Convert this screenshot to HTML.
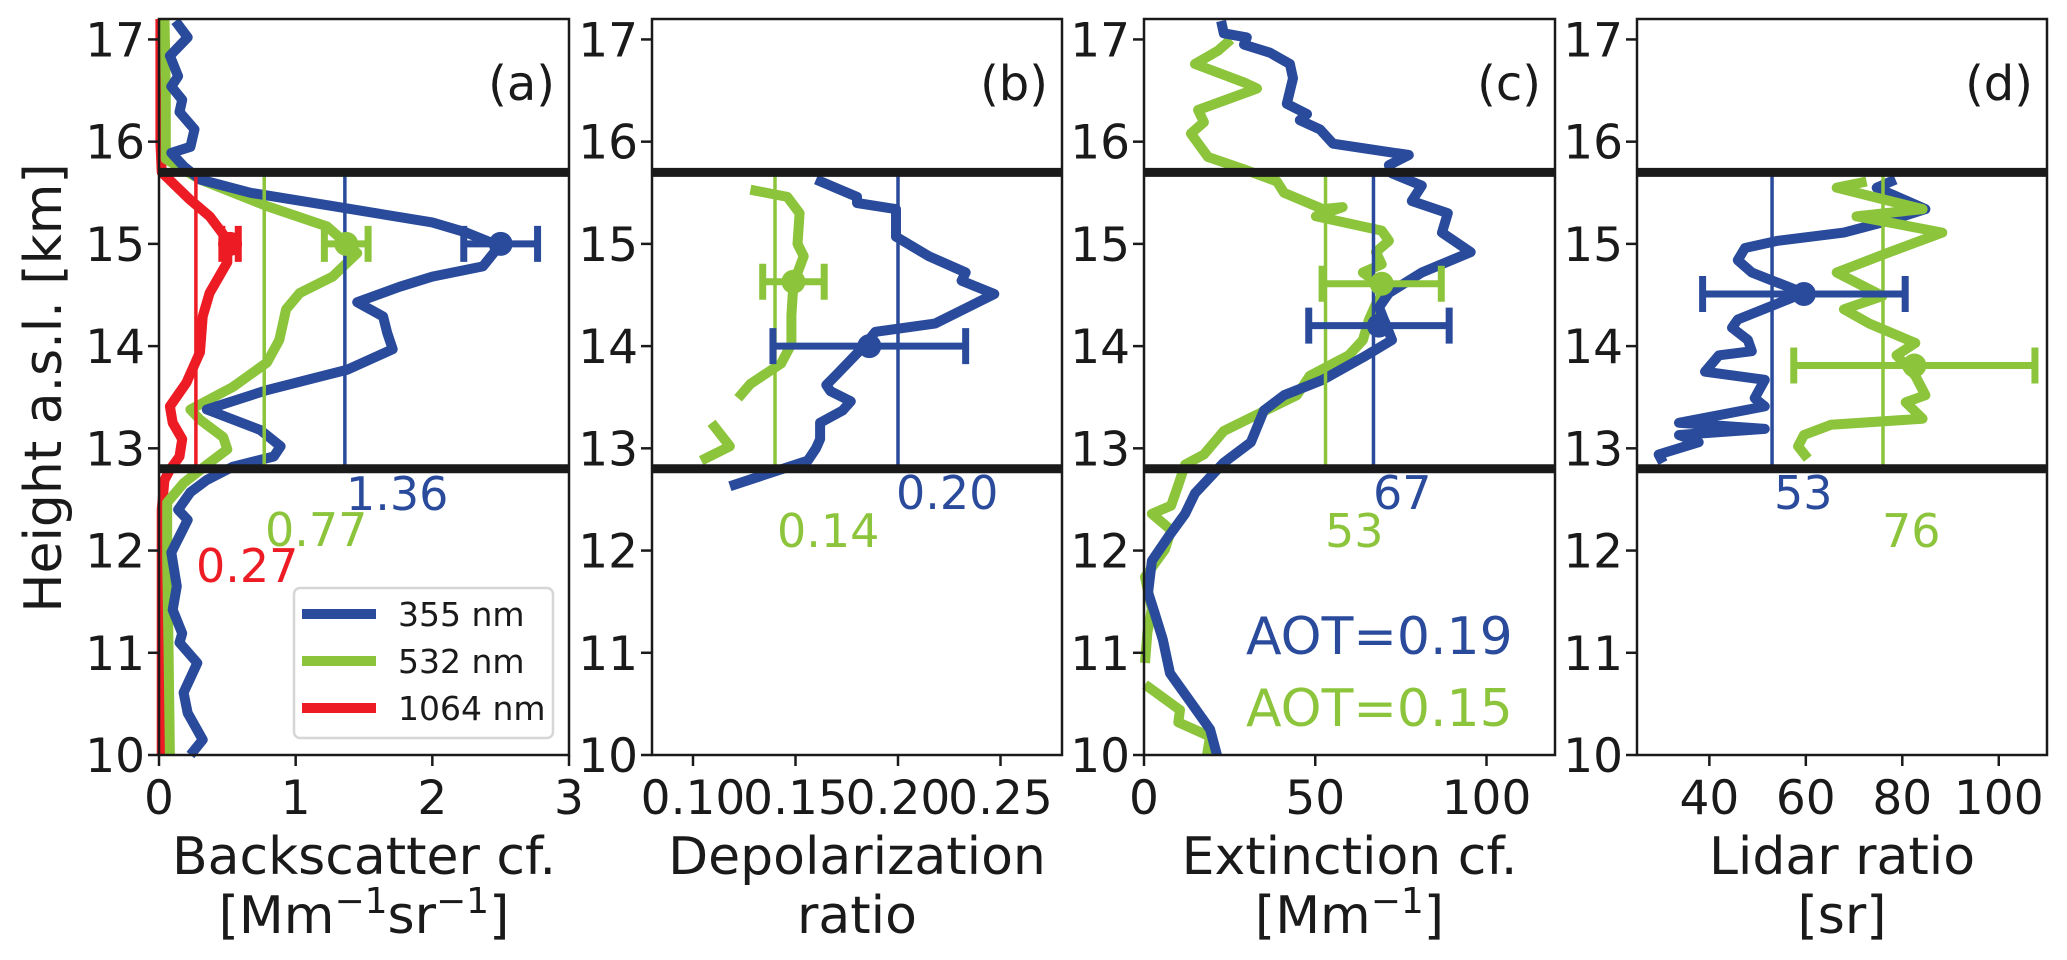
<!DOCTYPE html>
<html><head><meta charset="utf-8">
<style>
html,body{margin:0;padding:0;background:#fff;}
svg{display:block;font-family:"DejaVu Sans","Liberation Sans",sans-serif;}
</style></head>
<body>
<svg id="chart" width="2067" height="960" viewBox="0 0 2067 960" xmlns="http://www.w3.org/2000/svg">
<text x="0" y="0" transform="translate(44,388) rotate(-90)" text-anchor="middle" dominant-baseline="central" font-size="52" fill="#1a1a1a">Height a.s.l. [km]</text>
</svg>
<script>
// ---------- data ----------
const yTicks = [10,11,12,13,14,15,16,17];
const layerBounds = [12.8, 15.7];
const bscTicks = [0,1,2,3];
const depTicks = [0.10,0.15,0.20,0.25];
const depTickLabels = ["0.10","0.15","0.20","0.25"];
const extTicks = [0,50,100];
const lrTicks = [40,60,80,100];

// panel a: backscatter
const bsc355H = [17.18,17.02,16.84,16.64,16.54,16.41,16.29,16.12,15.95,15.89,15.76,15.63,15.50,15.37,15.21,15.11,14.98,14.78,14.68,14.58,14.43,14.29,14.13,13.97,13.77,13.57,13.38,13.18,13.02,12.92,12.82,12.69,12.57,12.40,12.30,11.98,11.65,11.42,11.19,11.10,10.90,10.61,10.41,10.15,10.0];
const bsc355V = [0.12,0.21,0.08,0.14,0.09,0.17,0.15,0.26,0.23,0.09,0.18,0.30,0.67,1.27,2.0,2.25,2.49,2.37,2.0,1.76,1.45,1.64,1.67,1.71,1.38,0.79,0.35,0.74,0.89,0.84,0.54,0.35,0.23,0.14,0.21,0.09,0.13,0.10,0.17,0.15,0.28,0.18,0.21,0.32,0.23];
const bsc532H = [17.2,16.5,15.83,15.63,15.37,15.17,14.91,14.68,14.52,14.36,14.06,13.84,13.60,13.38,13.28,13.11,12.99,12.86,12.66,12.47,11.91,11.0,10.0];
const bsc532V = [0.04,0.05,0.05,0.30,0.79,1.23,1.45,1.27,1.03,0.93,0.88,0.79,0.54,0.23,0.30,0.47,0.50,0.37,0.18,0.06,0.06,0.07,0.08];
const bsc1064H = [17.2,16.0,15.7,15.44,15.27,15.04,14.82,14.52,14.29,13.94,13.64,13.41,13.25,13.09,12.92,12.79,12.69,12.4,10.0];
const bsc1064V = [0.01,0.01,0.02,0.22,0.37,0.50,0.50,0.37,0.32,0.30,0.20,0.08,0.10,0.17,0.15,0.08,0.04,0.02,0.02];
const bscMean = [1.36,0.77,0.27];
const bscMeanLabels = ["1.36","0.77","0.27"];
const bscPointH = [15.0,15.0,15.0];
const bscPointV = [2.50,1.37,0.52];
const bscPointErr = [0.27,0.16,0.06];

// panel b: depolarization
const dep355H = [15.63,15.46,15.40,15.34,15.07,14.88,14.72,14.64,14.51,14.38,14.22,14.14,13.99,13.72,13.62,13.56,13.46,13.37,13.25,13.09,13.00,12.88,12.63];
const dep355V = [0.160,0.180,0.180,0.199,0.199,0.215,0.233,0.231,0.247,0.234,0.218,0.189,0.183,0.170,0.165,0.167,0.177,0.173,0.162,0.162,0.160,0.156,0.118];
const dep532H = [15.53,15.46,15.30,15.0,14.88,14.61,14.30,14.02,13.83,13.63,13.49];
const dep532V = [0.128,0.146,0.152,0.151,0.154,0.149,0.148,0.148,0.143,0.128,0.122];
const dep532H2 = [13.25,13.02,12.88];
const dep532V2 = [0.109,0.118,0.104];
const depMean = [0.20,0.14];
const depMeanLabels = ["0.20","0.14"];
const depPointH = [14.0,14.63];
const depPointV = [0.186,0.149];
const depPointErr = [0.047,0.015];

// panel c: extinction
const ext355H = [17.18,17.06,17.02,16.95,16.87,16.76,16.62,16.37,16.27,16.21,16.12,15.98,15.87,15.77,15.69,15.57,15.42,15.30,15.11,14.92,14.72,14.52,14.38,14.06,13.89,13.67,13.52,13.37,13.06,12.86,12.56,12.36,12.13,11.90,11.59,11.4,11.13,10.80,10.57,10.25,10.0];
const ext355V = [22.5,23.3,30,29.2,36.8,42.6,43.5,41.7,47.6,45.5,51.4,55.2,77.3,71.5,72.4,81.1,78.2,88.7,87,95.4,81.1,71.5,68.6,72.4,63.9,52.2,40.9,35.0,31.2,23.3,14.9,12.0,7.0,2.3,1.2,3.0,5.5,7.6,12.5,19.3,21.3];
const ext532H = [17.0,16.89,16.76,16.58,16.52,16.31,16.19,16.08,15.85,15.73,15.61,15.50,15.34,15.36,15.27,15.13,15.03,14.92,14.80,14.72,14.56,14.41,14.26,14.06,13.91,13.71,13.52,13.33,13.17,12.94,12.84,12.63,12.44,12.36,12.20,12.01,11.74,11.43,11.2,10.9];
const ext532V = [25.4,21.6,14.9,29.2,33,15.8,17.5,13.7,18.7,29.2,38.8,40.9,52.2,58,50.2,69.4,71.5,67.7,69.4,63.9,70.6,67.7,65.7,63.9,59.8,48.4,44.6,33,23.3,17.5,12,9.9,7.9,2.3,7.9,6.1,0.3,2.3,1.0,0.3];
const ext532H2 = [10.69,10.44,10.32,10.18,10.0];
const ext532V2 = [0.3,10.5,10,19.3,18.4];
const extMean = [67,53];
const extMeanLabels = ["67","53"];
const extPointH = [14.20,14.61];
const extPointV = [68.6,69.4];
const extPointErr = [20.5,17.4];
const aotLabels = ["AOT=0.19","AOT=0.15"];

// panel d: lidar ratio
const lr355H = [15.63,15.55,15.34,15.23,15.11,15.03,14.96,14.84,14.72,14.52,14.34,14.26,14.18,14.06,13.95,13.91,13.75,13.67,13.49,13.41,13.25,13.19,13.13,13.06,12.94,12.86];
const lr355V = [78.6,74.7,84.8,77.4,67.9,54.2,47.4,45.9,48.8,59.6,50.1,45.9,44.7,48.0,48.8,42.0,39.1,51.5,49.4,51.5,33.7,51.5,33.7,37.8,29.5,30.4];
const lr532H = [15.61,15.55,15.42,15.34,15.27,15.11,14.92,14.72,14.49,14.36,14.22,14.03,13.91,13.71,13.52,13.45,13.29,13.23,13.13,13.02,12.90];
const lr532V = [72.6,66.4,77.4,84.2,70.5,88.3,77.4,66.4,75.9,67.9,73.2,82.7,78.8,82.7,84.8,80.7,84.2,65.2,59.6,58.4,60.4];
const lrMean = [53,76];
const lrMeanLabels = ["53","76"];
const lrPointH = [14.51,13.81];
const lrPointV = [59.6,82.5];
const lrPointErr = [21,25];

// ---------- layout ----------
const BLUE="#2a4b9b", GREEN="#8cc43c", RED="#ed1c24", INK="#1a1a1a";
const TOP=19, BOT=755, YMIN=10, YMAX=17.2;
const NS="http://www.w3.org/2000/svg";
const svg=document.getElementById('chart');
function yS(h){return BOT-(h-YMIN)/(YMAX-YMIN)*(BOT-TOP);}
function mk(tag,attrs,parent){const e=document.createElementNS(NS,tag);for(const k in attrs)e.setAttribute(k,attrs[k]);(parent||svg).appendChild(e);return e;}

function makePanel(key,left,right,xmin,xmax){
  const g=mk('g',{});
  
  
  const xS=v=>left+(v-xmin)/(xmax-xmin)*(right-left);
  return {g,xS,left,right};
}
function profile(p,H,V,color,name,w){
  const pts=H.map((h,i)=>p.xS(V[i]).toFixed(1)+','+yS(h).toFixed(1)).join(' ');
  const pl=mk('polyline',{points:pts,fill:'none',stroke:color,'stroke-width':w||10,'stroke-linejoin':'round','stroke-linecap':'butt'},p.g);
  
  
}
function meanLine(p,v,color,name){
  const l=mk('line',{x1:p.xS(v),x2:p.xS(v),y1:yS(layerBounds[1]),y2:yS(layerBounds[0]),stroke:color,'stroke-width':3.5},p.g);
  
  
}
function errPoint(p,h,v,err,color,name){
  const g=mk('g',{},p.g);
  
  
  const y=yS(h),x1=p.xS(v-err),x2=p.xS(v+err);
  mk('line',{x1:x1,x2:x2,y1:y,y2:y,stroke:color,'stroke-width':7},g);
  mk('line',{x1:x1,x2:x1,y1:y-18,y2:y+18,stroke:color,'stroke-width':7},g);
  mk('line',{x1:x2,x2:x2,y1:y-18,y2:y+18,stroke:color,'stroke-width':7},g);
  mk('circle',{cx:p.xS(v),cy:y,r:12,fill:color},g);
}
function label(p,x,y,txt,color,name,size,anchor){
  const t=mk('text',{x:x,y:y,fill:color,'font-size':size||46,'text-anchor':anchor||'start'},p.g);
  t.textContent=txt;
  
  
  return t;
}
function frame(p,xt,xtl,panelLetter,title1,title2Html){
  const g=p.g;
  layerBounds.forEach((b,i)=>{
    const l=mk('line',{x1:p.left,x2:p.right,y1:yS(b),y2:yS(b),stroke:INK,'stroke-width':9},g);
    
    
  });
  const r=mk('rect',{x:p.left,y:TOP,width:p.right-p.left,height:BOT-TOP,fill:'none',stroke:INK,'stroke-width':2.5},g);
  
  
  yTicks.forEach(t=>{
    const y=yS(t);
    mk('line',{x1:p.left-11,x2:p.left,y1:y,y2:y,stroke:INK,'stroke-width':2.5},g);
    const tl=mk('text',{x:p.left-14,y:y+17,'text-anchor':'end','font-size':47,fill:INK},g);
    tl.textContent=String(t);
    
    
  });
  xt.forEach((t,i)=>{
    const x=p.xS(t);
    mk('line',{x1:x,x2:x,y1:BOT,y2:BOT+11,stroke:INK,'stroke-width':2.5},g);
    const tl=mk('text',{x:x,y:814,'text-anchor':'middle','font-size':47,fill:INK},g);
    tl.textContent=xtl[i];
    
    
  });
  const pl=mk('text',{x:p.right-14,y:100,'text-anchor':'end','font-size':48,fill:INK},g);
  pl.textContent=panelLetter;
  
  
  const cx=(p.left+p.right)/2;
  const t1=mk('text',{x:cx,y:874,'text-anchor':'middle','font-size':52,fill:INK},g);
  t1.textContent=title1;
  
  
  const t2=mk('text',{x:cx,y:933,'text-anchor':'middle','font-size':52,fill:INK},g);
  t2.innerHTML=title2Html;
  
  
}

// ---- panel a ----
const pa=makePanel('backscatter',159,569,0,3);
profile(pa,bsc1064H,bsc1064V,RED,'bsc-1064-line');
profile(pa,bsc532H,bsc532V,GREEN,'bsc-532-line');
profile(pa,bsc355H,bsc355V,BLUE,'bsc-355-line');
[BLUE,GREEN,RED].forEach((c,i)=>meanLine(pa,bscMean[i],c,'bsc-mean-line'));
[BLUE,GREEN,RED].forEach((c,i)=>errPoint(pa,bscPointH[i],bscPointV[i],bscPointErr[i],c,'bsc-errorbar'));
label(pa,346,510,bscMeanLabels[0],BLUE,'bsc-355-mean-label');
label(pa,265,546,bscMeanLabels[1],GREEN,'bsc-532-mean-label');
label(pa,196,582,bscMeanLabels[2],RED,'bsc-1064-mean-label');
frame(pa,bscTicks,bscTicks.map(String),'(a)','Backscatter cf.','[Mm<tspan dy="-20" font-size="36">−1</tspan><tspan dy="20">sr</tspan><tspan dy="-20" font-size="36">−1</tspan><tspan dy="20">]</tspan>');
// legend
const lg=mk('g',{},pa.g);


mk('rect',{x:294,y:588,width:259,height:150,rx:6,fill:'#fff',stroke:'#d6d6d6','stroke-width':2.5},lg);
[['355 nm',BLUE],['532 nm',GREEN],['1064 nm',RED]].forEach((e,i)=>{
  const ey=614+i*47;
  const it=mk('g',{},lg);
  
  
  mk('line',{x1:302,x2:376,y1:ey,y2:ey,stroke:e[1],'stroke-width':10},it);
  const t=mk('text',{x:398,y:ey+12,'font-size':33,fill:INK},it);
  t.textContent=e[0];
});

// ---- panel b ----
const pb=makePanel('depolarization',652,1062,0.08,0.28);
profile(pb,dep532H,dep532V,GREEN,'dep-532-line');
profile(pb,dep532H2,dep532V2,GREEN,'dep-532-line-lower');
profile(pb,dep355H,dep355V,BLUE,'dep-355-line');
meanLine(pb,depMean[0],BLUE,'dep-355-mean-line');
meanLine(pb,depMean[1],GREEN,'dep-532-mean-line');
errPoint(pb,depPointH[0],depPointV[0],depPointErr[0],BLUE,'dep-355-errorbar');
errPoint(pb,depPointH[1],depPointV[1],depPointErr[1],GREEN,'dep-532-errorbar');
label(pb,896,509,depMeanLabels[0],BLUE,'dep-355-mean-label');
label(pb,777,547,depMeanLabels[1],GREEN,'dep-532-mean-label');
frame(pb,depTicks,depTickLabels,'(b)','Depolarization','ratio');

// ---- panel c ----
const pc=makePanel('extinction',1144,1555,0,120);
profile(pc,ext532H,ext532V,GREEN,'ext-532-line');
profile(pc,ext532H2,ext532V2,GREEN,'ext-532-line-lower');
profile(pc,ext355H,ext355V,BLUE,'ext-355-line');
meanLine(pc,extMean[0],BLUE,'ext-355-mean-line');
meanLine(pc,extMean[1],GREEN,'ext-532-mean-line');
errPoint(pc,extPointH[0],extPointV[0],extPointErr[0],BLUE,'ext-355-errorbar');
errPoint(pc,extPointH[1],extPointV[1],extPointErr[1],GREEN,'ext-532-errorbar');
label(pc,1373,509,extMeanLabels[0],BLUE,'ext-355-mean-label');
label(pc,1325,547,extMeanLabels[1],GREEN,'ext-532-mean-label');
label(pc,1246,654,aotLabels[0],BLUE,'aot-355-label',52);
label(pc,1246,726,aotLabels[1],GREEN,'aot-532-label',52);
frame(pc,extTicks,extTicks.map(String),'(c)','Extinction cf.','[Mm<tspan dy="-20" font-size="36">−1</tspan><tspan dy="20">]</tspan>');

// ---- panel d ----
const pd=makePanel('lidar-ratio',1637,2047,25,110);
profile(pd,lr355H,lr355V,BLUE,'lr-355-line');
profile(pd,lr532H,lr532V,GREEN,'lr-532-line');
meanLine(pd,lrMean[0],BLUE,'lr-355-mean-line');
meanLine(pd,lrMean[1],GREEN,'lr-532-mean-line');
errPoint(pd,lrPointH[0],lrPointV[0],lrPointErr[0],BLUE,'lr-355-errorbar');
errPoint(pd,lrPointH[1],lrPointV[1],lrPointErr[1],GREEN,'lr-532-errorbar');
label(pd,1774,509,lrMeanLabels[0],BLUE,'lr-355-mean-label');
label(pd,1882,547,lrMeanLabels[1],GREEN,'lr-532-mean-label');
frame(pd,lrTicks,lrTicks.map(String),'(d)','Lidar ratio','[sr]');
</script>
</body></html>
